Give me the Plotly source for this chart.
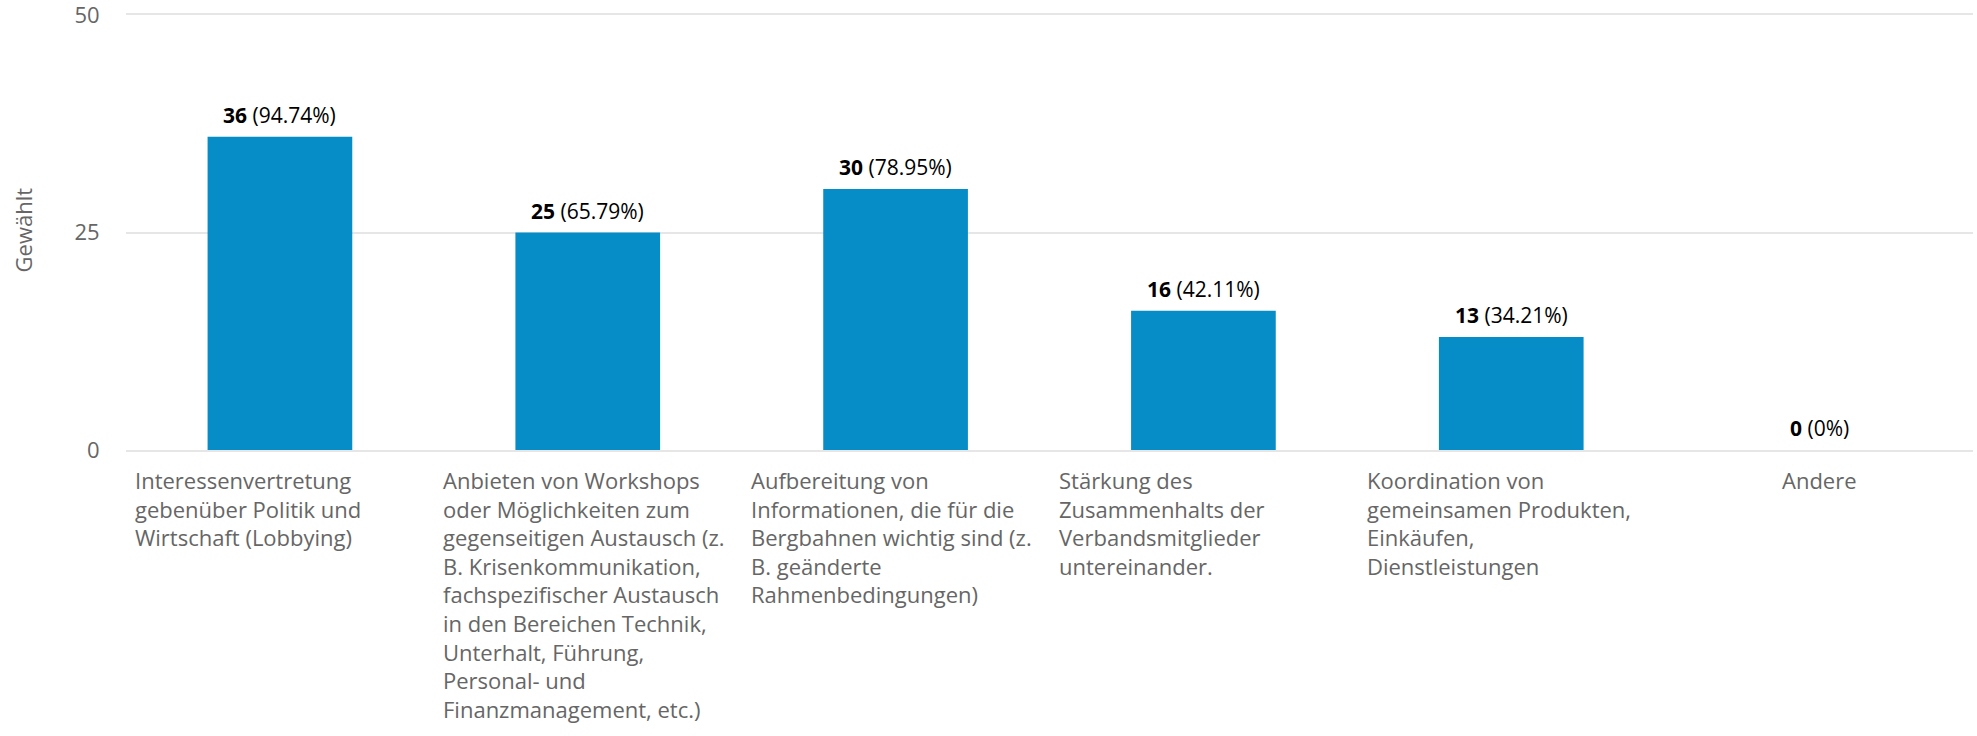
import plotly.graph_objects as go

categories = [
    "Interessenvertretung<br>gebenüber Politik und<br>Wirtschaft (Lobbying)",
    "Anbieten von Workshops<br>oder Möglichkeiten zum<br>gegenseitigen Austausch (z.<br>B. Krisenkommunikation,<br>fachspezifischer Austausch<br>in den Bereichen Technik,<br>Unterhalt, Führung,<br>Personal- und<br>Finanzmanagement, etc.)",
    "Aufbereitung von<br>Informationen, die für die<br>Bergbahnen wichtig sind (z.<br>B. geänderte<br>Rahmenbedingungen)",
    "Stärkung des<br>Zusammenhalts der<br>Verbandsmitglieder<br>untereinander.",
    "Koordination von<br>gemeinsamen Produkten,<br>Einkäufen,<br>Dienstleistungen",
    "Andere",
]
counts = [36, 25, 30, 16, 13, 0]
percents = ["94.74%", "65.79%", "78.95%", "42.11%", "34.21%", "0%"]
y_ticks = [0, 25, 50]
y_title = "Gewählt"

FONT = "Open Sans"
xs = list(range(len(categories)))

fig = go.Figure(go.Bar(
    x=xs, y=counts, marker_color="#068dc7", marker_line_width=0,
    width=0.47, hoverinfo="skip",
))

ann = []
for i, (c, p) in enumerate(zip(counts, percents)):
    ann.append(dict(x=i, y=c, xref="x", yref="y", yanchor="bottom", yshift=6,
                    text=f"<b>{c}</b> ({p})", showarrow=False,
                    font=dict(family=FONT, size=21, color="#000000")))
for i, cat in enumerate(categories):
    if i == len(categories) - 1:
        ann.append(dict(x=i, y=0, xref="x", yref="y", xanchor="center", yanchor="top",
                        yshift=-13, text=cat, align="center", showarrow=False,
                        font=dict(family=FONT, size=22, color="#666666")))
    else:
        ann.append(dict(x=i - 0.476, y=0, xref="x", yref="y", xanchor="left", yanchor="top",
                        yshift=-13, text=cat, align="left", showarrow=False,
                        font=dict(family=FONT, size=22, color="#666666")))
ann.append(dict(x=-0.056, y=25.3, xref="paper", yref="y", xanchor="center", yanchor="middle",
                text=y_title, textangle=-90, showarrow=False,
                font=dict(family=FONT, size=22, color="#666666")))

fig.update_layout(
    width=1977, height=736,
    margin=dict(l=126, r=4, t=15, b=286),
    paper_bgcolor="white", plot_bgcolor="white",
    showlegend=False,
    annotations=ann,
    xaxis=dict(range=[-0.5, 5.5], showticklabels=False, showgrid=False, zeroline=False,
               showline=True, mirror=True, linecolor="#e6e6e6", linewidth=2, fixedrange=True),
    yaxis=dict(range=[0, 50], tickvals=y_ticks, showgrid=True, gridcolor="#e6e6e6", gridwidth=2,
               zeroline=False, showline=False, ticks="outside", ticklen=21,
               tickcolor="rgba(0,0,0,0)", automargin=False, ticklabeloverflow="allow",
               fixedrange=True,
               tickfont=dict(family=FONT, size=22, color="#666666")),
)

fig.write_html("out.html", config={"displayModeBar": False},
               post_script="document.body.style.margin='0';document.body.style.padding='0';")
